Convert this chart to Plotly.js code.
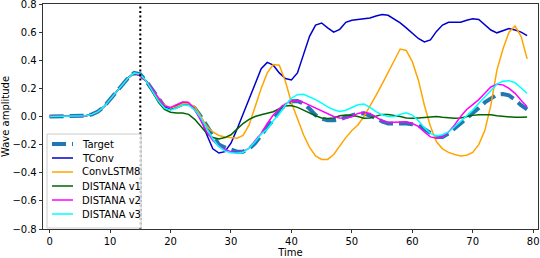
<!DOCTYPE html>
<html>
<head>
<meta charset="utf-8">
<script src="https://cdn.plot.ly/plotly-3.0.1.min.js"></script>
<style>html,body{margin:0;padding:0;background:#fff;}#chart{width:540px;height:258px;}</style>
</head>
<body>
<div id="chart"></div>
<script>
const time = [0,1,2,3,4,5,6,7,8,9,10,11,12,13,14,15,16,17,18,19,20,21,22,23,24,25,26,27,28,29,30,31,32,33,34,35,36,37,38,39,40,41,42,43,44,45,46,47,48,49,50,51,52,53,54,55,56,57,58,59,60,61,62,63,64,65,66,67,68,69,70,71,72,73,74,75,76,77,78,79];

const seriesNames = ["Target", "TConv", "ConvLSTM8", "DISTANA v1", "DISTANA v2", "DISTANA v3"];

// shared warm-up segment (t = 0..14)
const warmup = [0,0,0,0,0,0,0.005,0.015,0.035,0.07,0.12,0.17,0.225,0.275,0.31];

const target = warmup.concat([0.30,0.25,0.19,0.12,0.07,0.05,0.07,0.09,0.092,0.06,0.0,-0.07,-0.14,-0.2,-0.22,-0.235,-0.25,-0.25,-0.23,-0.19,-0.13,-0.075,-0.025,0.04,0.085,0.108,0.11,0.094,0.055,0.01,-0.015,-0.027,-0.027,-0.02,-0.005,0.008,0.02,0.023,0.01,-0.01,-0.035,-0.05,-0.05,-0.048,-0.05,-0.055,-0.06,-0.09,-0.12,-0.145,-0.145,-0.12,-0.085,-0.05,-0.015,0.02,0.06,0.1,0.13,0.155,0.16,0.15,0.12,0.08,0.05]);

const tconv = warmup.concat([0.29,0.25,0.19,0.12,0.07,0.05,0.07,0.09,0.09,0.06,-0.01,-0.13,-0.23,-0.26,-0.25,-0.19,-0.09,0.02,0.13,0.24,0.34,0.385,0.365,0.31,0.27,0.26,0.31,0.44,0.57,0.65,0.665,0.63,0.60,0.62,0.67,0.685,0.69,0.69,0.70,0.715,0.725,0.72,0.695,0.665,0.63,0.595,0.555,0.53,0.545,0.605,0.65,0.67,0.67,0.67,0.685,0.695,0.69,0.65,0.615,0.595,0.61,0.625,0.615,0.60,0.575]);

const convlstm8 = warmup.concat([0.29,0.25,0.19,0.13,0.08,0.06,0.07,0.09,0.09,0.07,0.0,-0.07,-0.11,-0.135,-0.145,-0.15,-0.155,-0.135,-0.06,0.07,0.2,0.31,0.37,0.365,0.25,0.1,-0.01,-0.13,-0.22,-0.28,-0.305,-0.305,-0.27,-0.21,-0.15,-0.1,-0.06,0.0,0.07,0.15,0.23,0.31,0.40,0.48,0.47,0.39,0.26,0.08,-0.07,-0.18,-0.23,-0.255,-0.27,-0.28,-0.275,-0.255,-0.2,-0.1,0.08,0.33,0.48,0.6,0.643,0.57,0.41]);

const distanaV1 = warmup.concat([0.29,0.25,0.18,0.1,0.05,0.03,0.025,0.025,0.015,-0.02,-0.07,-0.12,-0.15,-0.16,-0.15,-0.13,-0.09,-0.05,-0.02,0.0,0.012,0.022,0.034,0.055,0.075,0.078,0.065,0.045,0.022,0.005,-0.01,-0.015,-0.01,0.005,0.01,0.008,0.0,-0.012,-0.01,0.005,0.015,0.015,0.01,0.0,-0.01,-0.013,-0.01,-0.005,0.0,0.0,-0.005,-0.01,-0.012,-0.01,0.0,0.008,0.013,0.015,0.012,0.005,0.0,-0.005,-0.006,-0.005,-0.004]);

const distanaV2 = warmup.concat([0.29,0.25,0.19,0.13,0.075,0.065,0.085,0.103,0.1,0.05,-0.03,-0.11,-0.17,-0.21,-0.235,-0.25,-0.258,-0.25,-0.225,-0.175,-0.12,-0.05,0.01,0.055,0.09,0.11,0.112,0.1,0.08,0.06,0.038,0.018,0.0,-0.01,-0.013,0.0,0.022,0.03,0.022,-0.005,-0.03,-0.042,-0.042,-0.038,-0.038,-0.05,-0.07,-0.11,-0.145,-0.155,-0.145,-0.11,-0.06,0.0,0.05,0.085,0.12,0.165,0.21,0.23,0.225,0.2,0.165,0.115,0.07]);

const distanaV3 = warmup.concat([0.30,0.25,0.18,0.11,0.06,0.045,0.06,0.082,0.078,0.05,-0.01,-0.09,-0.16,-0.215,-0.245,-0.258,-0.262,-0.255,-0.225,-0.18,-0.125,-0.09,-0.03,0.02,0.08,0.13,0.155,0.158,0.14,0.12,0.095,0.068,0.048,0.035,0.045,0.062,0.083,0.088,0.065,0.035,0.012,0.0,0.0,0.015,0.027,0.01,-0.03,-0.08,-0.12,-0.138,-0.13,-0.11,-0.075,-0.035,0.005,0.045,0.095,0.14,0.19,0.23,0.25,0.255,0.24,0.205,0.165]);

const seriesValues = [target, tconv, convlstm8, distanaV1, distanaV2, distanaV3];
const seriesColors = ["#1f77b4", "#0000cd", "#ffa500", "#006400", "#ff00ff", "#00ffff"];
const seriesWidths = [4, 1.5, 1.5, 1.5, 1.5, 1.5];
const seriesDash = ["14px,6px", "solid", "solid", "solid", "solid", "solid"];

const xTicks = [0,10,20,30,40,50,60,70,80];
const yTicks = [-0.8,-0.6,-0.4,-0.2,0.0,0.2,0.4,0.6,0.8];
const observeEnd = 15;

const traces = seriesNames.map((n, i) => ({
  x: time, y: seriesValues[i], name: n, type: 'scatter', mode: 'lines',
  line: {color: seriesColors[i], width: seriesWidths[i], dash: seriesDash[i]},
  showlegend: false, hoverinfo: 'skip'
}));

// custom legend (matplotlib-like compact spacing)
const plotL = 43, plotR = 538, plotT = 4, plotB = 229;
const px2x = p => (p - plotL) / (plotR - plotL);
const py2y = p => (plotB - p) / (plotB - plotT);
const shapes = [
  {type:'line', xref:'x', yref:'paper', x0:observeEnd, x1:observeEnd, y0:0, y1:1,
   line:{color:'#000', width:2, dash:'2px,2.5px'}},
  {type:'rect', xref:'paper', yref:'paper', x0:px2x(47), x1:px2x(141), y0:py2y(134), y1:py2y(228),
   fillcolor:'rgba(255,255,255,0.8)', line:{color:'#cccccc', width:1}}
];
const annotations = [];
seriesNames.forEach((n, i) => {
  const yc = 144 + i * 14;
  shapes.push({type:'line', xref:'paper', yref:'paper', x0:px2x(52), x1:px2x(73), y0:py2y(yc), y1:py2y(yc),
    line:{color:seriesColors[i], width: i === 0 ? 4 : 1.5, dash: i === 0 ? '14px,6px' : 'solid'}});
  annotations.push({xref:'paper', yref:'paper', x:px2x(80), y:py2y(yc), text:n, showarrow:false,
    xanchor:'left', yanchor:'middle', font:{family:'DejaVu Sans', size:10, color:'#000'}});
});

const layout = {
  width: 540, height: 258,
  margin: {l: plotL, r: 540 - plotR, t: plotT, b: 258 - plotB, pad: 0},
  paper_bgcolor: '#fff', plot_bgcolor: '#fff',
  font: {family: 'DejaVu Sans', size: 10, color: '#000'},
  showlegend: false,
  xaxis: {
    range: [-1.1, 80.8], tickvals: xTicks, ticks: 'outside', ticklen: 3.5, tickwidth: 0.8, tickcolor: '#000',
    showline: true, mirror: true, linecolor: '#000', linewidth: 0.8, showgrid: false, zeroline: false,
    ticklabeloverflow: 'allow',
    title: {text: 'Time', font: {size: 10, family: 'DejaVu Sans', color: '#000'}, standoff: 2},
    tickfont: {size: 10, family: 'DejaVu Sans', color: '#000'}
  },
  yaxis: {
    range: [-0.8, 0.8], tickvals: yTicks, tickformat: '.1f', ticks: 'outside', ticklen: 3.5, tickwidth: 0.8, tickcolor: '#000',
    showline: true, mirror: true, linecolor: '#000', linewidth: 0.8, showgrid: false, zeroline: false,
    ticklabeloverflow: 'allow',
    title: {text: 'Wave amplitude', font: {size: 10, family: 'DejaVu Sans', color: '#000'}, standoff: 2},
    tickfont: {size: 10, family: 'DejaVu Sans', color: '#000'}
  },
  shapes: shapes,
  annotations: annotations
};

Plotly.newPlot('chart', traces, layout, {staticPlot: true, displayModeBar: false});
</script>
</body>
</html>
